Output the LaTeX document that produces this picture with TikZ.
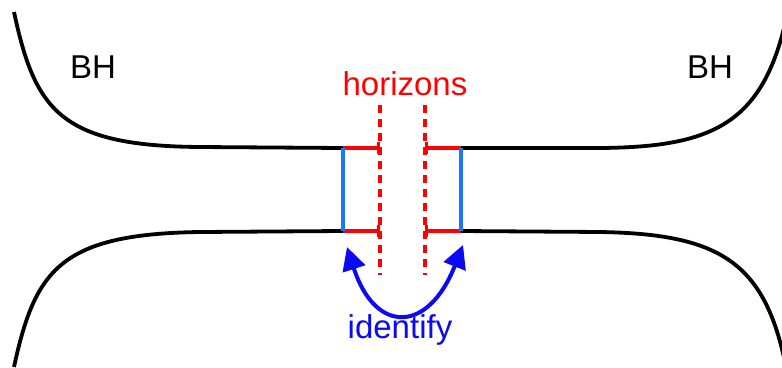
\documentclass[tikz,border=0pt]{standalone}
\usepackage{fontspec}
\setmainfont{Liberation Sans}
\usetikzlibrary{arrows.meta}
\definecolor{hred}{RGB}{255,0,0}
\definecolor{lblue}{RGB}{25,118,255}
\definecolor{dblue}{RGB}{10,10,245}
\tikzset{
  wall/.style={line width=3.8pt, black},
  horseg/.style={line width=3.2pt, hred, -{Bar[width=12pt,line width=2.6pt]}},
  hordash/.style={line width=3.2pt, hred, dash pattern=on 8pt off 6pt},
  bluebar/.style={line width=3.8pt, lblue},
  idarrow/.style={line width=4pt, dblue, {Triangle[length=23pt,width=23pt]}-{Triangle[length=23pt,width=23pt]}},
  lbl/.style={inner sep=0pt, font=\fontsize{33}{39}\selectfont},
}
\begin{document}
\begin{tikzpicture}[x=1pt,y=-1pt]
\useasboundingbox (0,0) rectangle (782,367);
% named coordinates
\coordinate (TL) at (343,148);
\coordinate (TR) at (461,148);
\coordinate (BL) at (343,231);
\coordinate (BR) at (461,231);
\coordinate (TLh) at (380,148);
\coordinate (TRh) at (425,148);
\coordinate (BLh) at (380,231);
\coordinate (BRh) at (425,231);
\coordinate (D1top) at (380,105);
\coordinate (D1bot) at (380,275);
\coordinate (D2top) at (425,105);
\coordinate (D2bot) at (425,275);
\coordinate (Aleft) at (347,247);
\coordinate (Aright) at (463,245);
\begin{scope}
\clip (0,0) rectangle (782,367);
% black walls
\draw[wall] (14,12) .. controls (35,110) and (60,146) .. (200,147) -- (TL);
\draw[wall] (TR) -- (600,148) .. controls (718,147) and (768,122) .. (790,0);
\draw[wall] (14,367) .. controls (35,270) and (60,234) .. (200,232) -- (BL);
\draw[wall] (BR) -- (600,232) .. controls (720,234) and (765,262) .. (786,367);
\end{scope}
% dashed horizons
\draw[hordash] (D1top) -- (D1bot);
\draw[hordash] (D2top) -- (D2bot);
% red segments
\draw[horseg] (TL) -- (TLh);
\draw[horseg] (BL) -- (BLh);
\draw[horseg] (TR) -- (TRh);
\draw[horseg] (BR) -- (BRh);
% blue cuts
\draw[bluebar] (TL) -- (BL);
\draw[bluebar] (TR) -- (BR);
% identify arrow
\draw[idarrow] (Aleft) .. controls (375,334) and (428,334) .. (Aright);
% labels
\node[lbl, anchor=base west] (bh1) at (70,78) {BH};
\node[lbl, anchor=base west] (bh2) at (687,78) {BH};
\node[lbl, anchor=base, text=hred] (hor) at (405,95) {horizons};
\node[lbl, anchor=base, text=dblue] (idf) at (400,338) {identify};
\end{tikzpicture}
\end{document}
